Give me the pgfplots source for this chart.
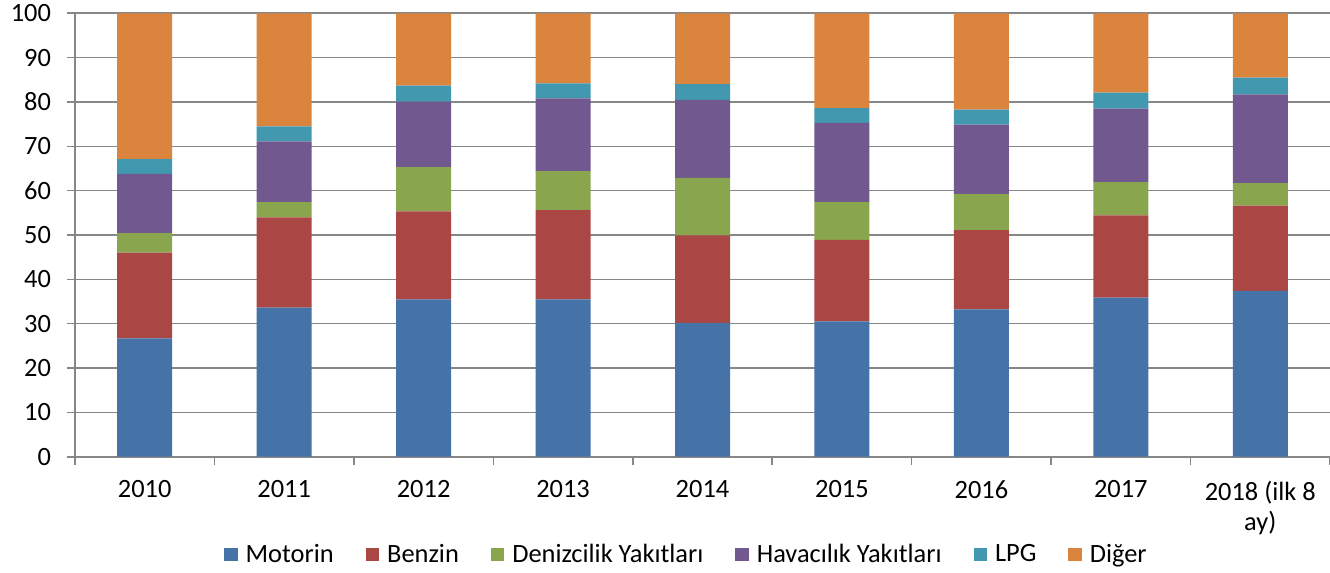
\documentclass[border=0pt]{standalone}
\usepackage{fontspec}
\setmainfont{Carlito}
\usepackage{pgfplots}
\pgfplotsset{compat=1.18}
\definecolor{cMot}{HTML}{4572A7}
\definecolor{cBen}{HTML}{AA4643}
\definecolor{cDen}{HTML}{89A54E}
\definecolor{cHav}{HTML}{71588F}
\definecolor{cLPG}{HTML}{4198AF}
\definecolor{cDig}{HTML}{DB843D}
\definecolor{gridgray}{HTML}{878787}
\begin{document}
\begin{tikzpicture}
\begin{axis}[name=ax,
  scale only axis, width=627.5pt, height=221.7pt,
  ybar stacked, bar width=27.5pt,
  xmin=-0.5, xmax=8.5, ymin=0, ymax=100,
  font=\fontsize{13.2pt}{15pt}\selectfont,
  /pgf/number format/assume math mode=true,
  axis lines*=left,
  axis line style={draw=gridgray, line width=0.8pt},
  ytick={0,10,...,100},
  ymajorgrids, grid style={draw=gridgray, line width=0.8pt},
  tick align=outside, major tick length=4pt,
  tick style={draw=gridgray, line width=0.8pt},
  xtick={0,...,8},
  xticklabels={2010,2011,2012,2013,2014,2015,2016,2017,{2018 (ilk 8\\ay)}},
  xticklabel style={align=center, yshift=-4.5pt},
  major x tick style={draw=none},
  extra x ticks={-0.5,0.5,1.5,2.5,3.5,4.5,5.5,6.5,7.5,8.5},
  extra x tick labels={},
  extra x tick style={grid=none, major x tick style={draw=gridgray, line width=0.8pt}},
  yticklabel style={xshift=-4.5pt},
  legend columns=-1,
  legend style={draw=none, fill=none, at={(0.488,-0.221)}, anchor=center,
    font=\fontsize{13.2pt}{15pt}\selectfont,
    /tikz/every even column/.append style={column sep=14pt}},
  legend image code/.code={\fill[#1,draw=none] (0pt,-3.35pt) rectangle (6.7pt,3.35pt); \path (8.7pt,0pt);},
  every axis plot/.append style={draw=none},
]
\addplot[fill=cMot] coordinates {(0,26.7) (1,33.6) (2,35.5) (3,35.5) (4,30.2) (5,30.5) (6,33.2) (7,35.9) (8,37.4)};
\addplot[fill=cBen] coordinates {(0,19.3) (1,20.4) (2,19.8) (3,20.1) (4,19.7) (5,18.4) (6,17.9) (7,18.5) (8,19.2)};
\addplot[fill=cDen] coordinates {(0,4.4) (1,3.4) (2,10.0) (3,8.8) (4,13.0) (5,8.5) (6,8.1) (7,7.5) (8,5.1)};
\addplot[fill=cHav] coordinates {(0,13.4) (1,13.7) (2,14.8) (3,16.4) (4,17.6) (5,17.9) (6,15.7) (7,16.6) (8,20.0)};
\addplot[fill=cLPG] coordinates {(0,3.3) (1,3.4) (2,3.6) (3,3.4) (4,3.5) (5,3.3) (6,3.4) (7,3.6) (8,3.8)};
\addplot[fill=cDig] coordinates {(0,32.9) (1,25.5) (2,16.3) (3,15.8) (4,16.0) (5,21.4) (6,21.7) (7,17.9) (8,14.5)};
\legend{Motorin,Benzin,Denizcilik Yakıtları,Havacılık Yakıtları,LPG,Diğer}
\end{axis}
\pgfresetboundingbox
\path[use as bounding box] ([xshift=-37.5pt,yshift=-57.65pt]ax.south west) rectangle ([yshift=6.65pt]ax.north east);
\end{tikzpicture}
\end{document}
